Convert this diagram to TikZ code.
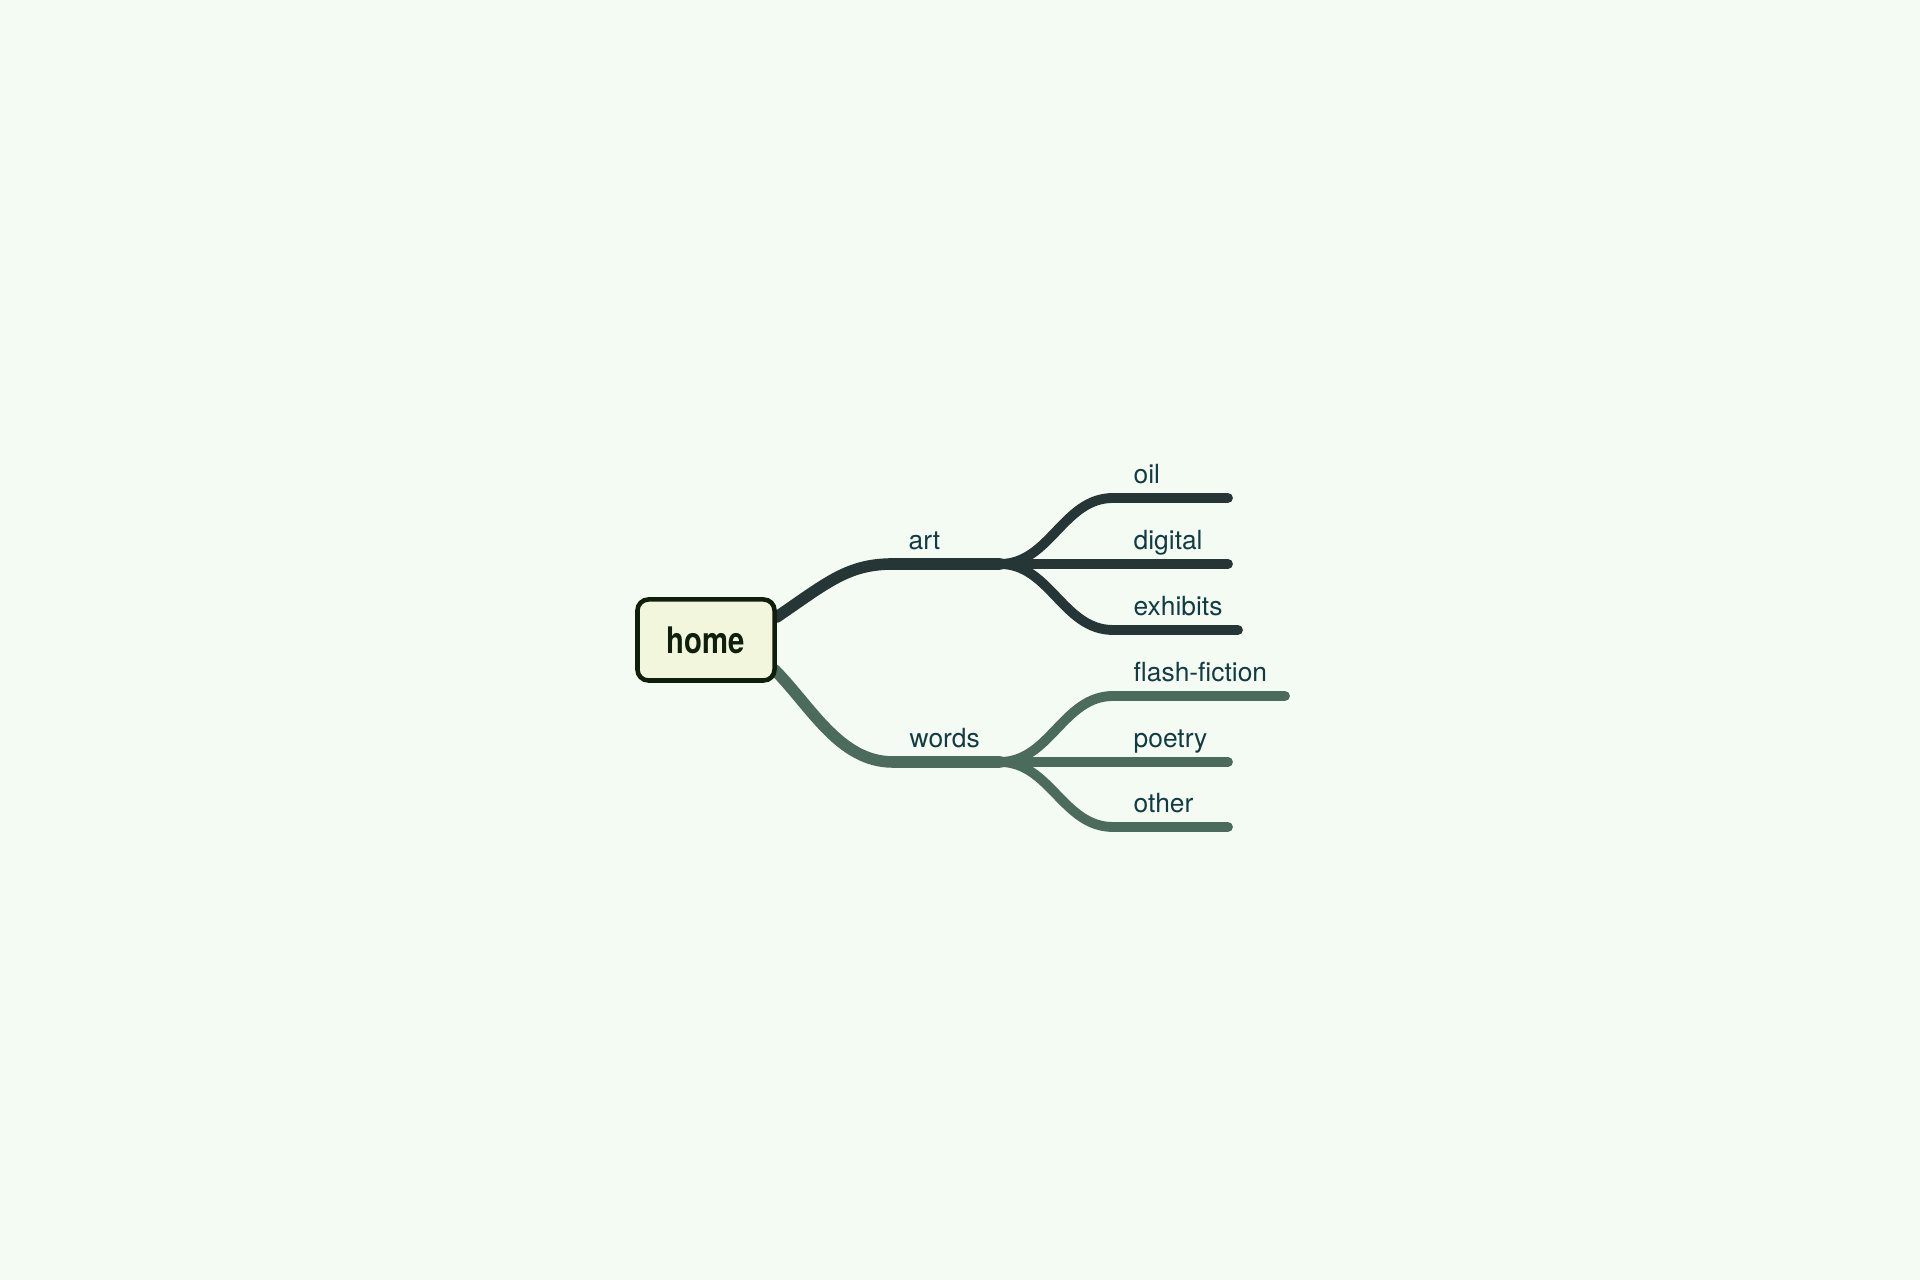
\documentclass[tikz,border=0pt]{standalone}
\usepackage{fontspec}
\setmainfont{TeX Gyre Heros}
\newfontfamily\homefont[FakeStretch=0.8]{TeX Gyre Heros}
\usepackage{tikz}
\usetikzlibrary{positioning}
\definecolor{bgcol}{HTML}{F4FBF3}
\definecolor{boxcol}{HTML}{F2F6DC}
\definecolor{rimcol}{HTML}{0F1F0C}
\definecolor{artcol}{HTML}{263535}
\definecolor{wordscol}{HTML}{4B6B5D}
\definecolor{txtcol}{HTML}{123C42}
\pgfdeclarelayer{bg}
\pgfdeclarelayer{lines}
\pgfsetlayers{bg,lines,main}
\tikzset{
  homebox/.style={draw=rimcol, fill=boxcol, line width=1.3pt, rounded corners=0.11cm,
    minimum width=1.37cm, minimum height=0.81cm, inner sep=0pt,
    font=\homefont\bfseries\fontsize{10.4}{12}\selectfont, text=rimcol},
  branch/.style={line width=3.3pt, line cap=round},
  twig/.style={line width=2.8pt, line cap=round},
  leaf/.style={anchor=base west, inner sep=0pt, text=txtcol, font=\fontsize{7.5}{9}\selectfont}
}

\begin{document}
\begin{tikzpicture}[x=0.01cm, y=-0.01cm]
\useasboundingbox (0,0) rectangle (1920,1280);
\begin{pgfonlayer}{bg}
\fill[bgcol] (0,0) rectangle (1920,1280);
\end{pgfonlayer}
\node[homebox] (home) at (706,640) {home};
\coordinate (artfork) at (1000,564);
\coordinate (wordsfork) at (1000,762);
\node[leaf] (art) at (908,550) {art};
\node[leaf] (words) at (909,748) {words};
\begin{pgfonlayer}{lines}
\draw[branch,artcol] ([yshift=0.23cm]home.east) .. controls (828,582) and (848,564) .. (893,564) -- (artfork);
\draw[branch,wordscol] ([xshift=-0.02cm,yshift=-0.3cm]home.east) .. controls (812,708) and (840,762) .. (893,762) -- (wordsfork);
\foreach \name/\txt/\y/\xend in {oil/oil/498/1228, digital/digital/564/1228, exhibits/exhibits/630/1238} {
  \coordinate (\name-a) at (1113,\y);
  \coordinate (\name-b) at (\xend,\y);
  \node[leaf] (\name) at (1133,\y-14) {\txt};
  \draw[twig,artcol] (artfork) .. controls +(50,0) and +(-50,0) .. (\name-a) -- (\name-b);
}
\foreach \name/\txt/\y/\xend in {flash/flash-fiction/696/1285, poetry/poetry/762/1228, other/other/827/1228} {
  \coordinate (\name-a) at (1113,\y);
  \coordinate (\name-b) at (\xend,\y);
  \node[leaf] (\name) at (1133,\y-14) {\txt};
  \draw[twig,wordscol] (wordsfork) .. controls +(50,0) and +(-50,0) .. (\name-a) -- (\name-b);
}
\end{pgfonlayer}
\end{tikzpicture}
\end{document}
